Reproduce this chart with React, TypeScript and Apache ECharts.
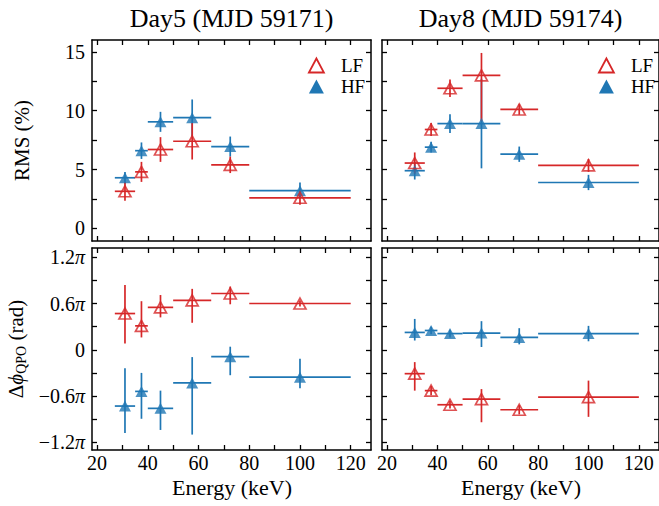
import React, { useEffect, useRef } from "react";
import * as echarts from "echarts";

// ---------- data ----------
const energy = [31, 37.5, 45, 57.5, 72.5, 100];
const binLo = [27, 35, 40, 50, 65, 80];
const binHi = [35, 40, 50, 65, 80, 120];

// RMS (%) Day5
const rms5LF = [3.15, 4.8, 6.7, 7.4, 5.4, 2.6];
const rms5LFerrLo = [0.8, 0.85, 1.05, 1.55, 0.7, 0.6];
const rms5LFerrHi = [0.8, 0.85, 1.05, 1.55, 0.7, 0.6];
const rms5HF = [4.3, 6.6, 9.05, 9.4, 6.95, 3.2];
const rms5HFerrLo = [0.5, 0.7, 0.85, 1.55, 0.85, 0.7];
const rms5HFerrHi = [0.5, 0.7, 0.85, 1.55, 0.85, 0.7];

// RMS (%) Day8
const rms8LF = [5.55, 8.4, 11.9, 13.0, 10.1, 5.35];
const rms8LFerrLo = [0.9, 0.55, 0.75, 3.9, 0.45, 0.55];
const rms8LFerrHi = [0.9, 0.55, 0.75, 1.9, 0.45, 0.55];
const rms8HF = [4.9, 6.9, 8.9, 8.9, 6.3, 3.9];
const rms8HFerrLo = [0.75, 0.45, 0.8, 3.8, 0.65, 0.65];
const rms8HFerrHi = [0.75, 0.45, 0.8, 3.8, 0.65, 0.65];

// phase lag (units of pi) Day5
const ph5LF = [0.47, 0.31, 0.55, 0.64, 0.73, 0.6];
const ph5LFerrLo = [0.39, 0.15, 0.13, 0.29, 0.14, 0.04];
const ph5LFerrHi = [0.37, 0.32, 0.16, 0.15, 0.09, 0.04];
const ph5HF = [-0.73, -0.54, -0.76, -0.43, -0.09, -0.355];
const ph5HFerrLo = [0.35, 0.355, 0.28, 0.67, 0.24, 0.145];
const ph5HFerrHi = [0.49, 0.24, 0.23, 0.335, 0.13, 0.24];

// phase lag (units of pi) Day8
const ph8LF = [-0.31, -0.53, -0.713, -0.64, -0.778, -0.614];
const ph8LFerrLo = [0.22, 0.06, 0.05, 0.3, 0.06, 0.256];
const ph8LFerrHi = [0.15, 0.06, 0.05, 0.13, 0.06, 0.214];
const ph8HF = [0.225, 0.25, 0.21, 0.216, 0.16, 0.21];
const ph8HFerrLo = [0.105, 0.05, 0.05, 0.18, 0.09, 0.1];
const ph8HFerrHi = [0.175, 0.05, 0.05, 0.155, 0.12, 0.1];

const xTickValues = [20, 30, 40, 50, 60, 70, 80, 90, 100, 110, 120];
const xLabelValues = [20, 40, 60, 80, 100, 120];
const rmsTickValues = [0, 2.5, 5, 7.5, 10, 12.5, 15];
const rmsLabelValues = [0, 5, 10, 15];
const phTickValues = [-1.2, -0.9, -0.6, -0.3, 0, 0.3, 0.6, 0.9, 1.2];
const phLabelValues = [-1.2, -0.6, 0, 0.6, 1.2];

const titles = ["Day5 (MJD 59171)", "Day8 (MJD 59174)"];
const xAxisTitle = "Energy (keV)";

// ---------- style ----------
const RED = "#d62728";
const BLUE = "#1f77b4";
const FONT = '"Liberation Serif", "Times New Roman", serif';

const grids = [
  { left: 92, top: 40, width: 279, height: 201 },
  { left: 382, top: 40, width: 277, height: 201 },
  { left: 92, top: 248, width: 279, height: 202 },
  { left: 382, top: 248, width: 277, height: 202 },
];

function errSeries(name: string, gi: number, vals: number[], lo: number[], hi: number[], color: string) {
  return {
    type: "custom",
    name,
    xAxisIndex: gi,
    yAxisIndex: gi,
    silent: true,
    encode: { x: [0, 2, 3], y: [1, 4, 5] },
    data: energy.map((e, i) => [e, vals[i], binLo[i], binHi[i], vals[i] - lo[i], vals[i] + hi[i]]),
    renderItem: (_p: any, api: any) => {
      const x = api.value(0);
      const y = api.value(1);
      const a = api.coord([api.value(2), y]);
      const b = api.coord([api.value(3), y]);
      const c = api.coord([x, api.value(4)]);
      const d = api.coord([x, api.value(5)]);
      const st = { stroke: color, lineWidth: 1.7 };
      return {
        type: "group",
        children: [
          { type: "line", shape: { x1: a[0], y1: a[1], x2: b[0], y2: b[1] }, style: st },
          { type: "line", shape: { x1: c[0], y1: c[1], x2: d[0], y2: d[1] }, style: st },
        ],
      };
    },
  };
}

function markSeries(name: string, gi: number, vals: number[], color: string, open: boolean) {
  return {
    type: "scatter",
    name,
    xAxisIndex: gi,
    yAxisIndex: gi,
    symbol: "triangle",
    symbolSize: [12, 11],
    silent: true,
    data: energy.map((e, i) => [e, vals[i]]),
    itemStyle: open
      ? { color: "rgba(255,255,255,0)", borderColor: color, borderWidth: 1.7 }
      : { color, borderWidth: 0 },
  };
}

function phaseLabel(v: number) {
  if (Math.abs(v) < 1e-9) return "{n|0}";
  const s = (v < 0 ? "\u2212" : "") + Math.abs(v).toFixed(1);
  return "{n|" + s + "}{p|\u03c0}";
}

export default function App() {
  const ref = useRef<HTMLDivElement>(null);
  useEffect(() => {
    if (!ref.current) return;
    const chart = echarts.init(ref.current, null, { renderer: "svg" });

    const axisLine = { show: true, onZero: false, lineStyle: { color: "#000", width: 1.5 } };
    const tickStyle = { color: "#000", width: 1.3 };
    const labelBase = { fontFamily: FONT, fontSize: 20, color: "#000" };

    const xAxes: any[] = [];
    const yAxes: any[] = [];
    for (let gi = 0; gi < 4; gi++) {
      const bottomRow = gi >= 2;
      xAxes.push({
        type: "value",
        gridIndex: gi,
        position: "bottom",
        min: 18,
        max: 128,
        axisLine,
        splitLine: { show: false },
        axisTick: { show: true, inside: true, length: 5, lineStyle: tickStyle, customValues: xTickValues },
        axisLabel: { show: bottomRow, ...labelBase, margin: 3, customValues: xLabelValues },
      });
    }
    for (let gi = 0; gi < 4; gi++) {
      xAxes.push({
        type: "value",
        gridIndex: gi,
        position: "top",
        min: 18,
        max: 128,
        axisLine,
        splitLine: { show: false },
        axisTick: { show: true, inside: true, length: 5, lineStyle: tickStyle, customValues: xTickValues },
        axisLabel: { show: false },
      });
    }
    for (let gi = 0; gi < 4; gi++) {
      const top = gi < 2;
      const leftCol = gi % 2 === 0;
      yAxes.push({
        type: "value",
        gridIndex: gi,
        position: "left",
        min: top ? -1.07 : -1.3,
        max: top ? 16 : 1.32,
        axisLine,
        splitLine: { show: false },
        axisTick: { show: true, inside: true, length: 5, lineStyle: tickStyle, customValues: top ? rmsTickValues : phTickValues },
        axisLabel: top
          ? { show: leftCol, ...labelBase, margin: 7, customValues: rmsLabelValues }
          : {
              show: leftCol,
              margin: 7,
              customValues: phLabelValues,
              formatter: (v: number) => phaseLabel(v),
              rich: {
                n: { fontFamily: FONT, fontSize: 20, color: "#000" },
                p: { fontFamily: FONT, fontSize: 20, fontStyle: "italic", color: "#000" },
              },
            },
        name: leftCol ? (top ? "RMS (%)" : "{a|\u0394}{b|\u03d5}{c|QPO}{a| (rad)}") : "",
        nameLocation: "middle",
        nameGap: top ? 60 : 64,
        nameRotate: 90,
        nameMoveOverlap: false,
        nameTextStyle: top
          ? { fontFamily: FONT, fontSize: 21, fontWeight: "normal", color: "#000" }
          : {
              fontFamily: FONT,
              fontSize: 21,
              fontWeight: "normal",
              color: "#000",
              rich: {
                a: { fontFamily: FONT, fontSize: 21, fontWeight: "normal", color: "#000" },
                b: { fontFamily: FONT, fontSize: 21, fontWeight: "normal", fontStyle: "italic", color: "#000" },
                c: { fontFamily: FONT, fontSize: 14, fontWeight: "normal", color: "#000", padding: [11, 0, 0, 0] },
              },
            },
      });
    }
    for (let gi = 0; gi < 4; gi++) {
      const top = gi < 2;
      yAxes.push({
        type: "value",
        gridIndex: gi,
        position: "right",
        min: top ? -1.07 : -1.3,
        max: top ? 16 : 1.32,
        axisLine,
        splitLine: { show: false },
        axisTick: { show: true, inside: true, length: 5, lineStyle: tickStyle, customValues: top ? rmsTickValues : phTickValues },
        axisLabel: { show: false },
      });
    }

    const series: any[] = [
      errSeries("HF", 0, rms5HF, rms5HFerrLo, rms5HFerrHi, BLUE),
      markSeries("HF", 0, rms5HF, BLUE, false),
      errSeries("LF", 0, rms5LF, rms5LFerrLo, rms5LFerrHi, RED),
      markSeries("LF", 0, rms5LF, RED, true),
      errSeries("HF", 1, rms8HF, rms8HFerrLo, rms8HFerrHi, BLUE),
      markSeries("HF", 1, rms8HF, BLUE, false),
      errSeries("LF", 1, rms8LF, rms8LFerrLo, rms8LFerrHi, RED),
      markSeries("LF", 1, rms8LF, RED, true),
      errSeries("HF", 2, ph5HF, ph5HFerrLo, ph5HFerrHi, BLUE),
      markSeries("HF", 2, ph5HF, BLUE, false),
      errSeries("LF", 2, ph5LF, ph5LFerrLo, ph5LFerrHi, RED),
      markSeries("LF", 2, ph5LF, RED, true),
      errSeries("HF", 3, ph8HF, ph8HFerrLo, ph8HFerrHi, BLUE),
      markSeries("HF", 3, ph8HF, BLUE, false),
      errSeries("LF", 3, ph8LF, ph8LFerrLo, ph8LFerrHi, RED),
      markSeries("LF", 3, ph8LF, RED, true),
    ];

    const legendData = [
      { name: "LF", icon: "triangle", itemStyle: { color: "rgba(255,255,255,0)", borderColor: RED, borderWidth: 1.8 } },
      { name: "HF", icon: "triangle", itemStyle: { color: BLUE, borderWidth: 0 } },
    ];
    const legendBase = {
      orient: "vertical",
      top: 51,
      itemWidth: 15,
      itemHeight: 14,
      itemGap: 2,
      selectedMode: false,
      data: legendData,
      textStyle: { fontFamily: FONT, fontSize: 19, color: "#000", padding: [0, 0, 0, 12] },
    };

    const titleTexts = titles.map((t, i) => ({
      type: "text",
      x: grids[i].left + grids[i].width / 2,
      y: 5,
      style: { text: t, fontFamily: FONT, fontSize: 26, fill: "#000", align: "center", verticalAlign: "top" },
    }));
    const xNameTexts = [2, 3].map((gi) => ({
      type: "text",
      x: Math.round(grids[gi].left + grids[gi].width / 2),
      y: 487,
      style: { text: xAxisTitle, fontFamily: FONT, fontSize: 22, fontWeight: "normal", fill: "#000", align: "center", verticalAlign: "middle" },
    }));

    chart.setOption({
      animation: false,
      backgroundColor: "#fff",
      grid: grids.map((g) => ({ ...g, outerBoundsMode: "none", containLabel: false })),
      xAxis: xAxes,
      yAxis: yAxes,
      legend: [
        { ...legendBase, left: 303 },
        { ...legendBase, left: 593 },
      ],
      graphic: [...titleTexts, ...xNameTexts],
      series,
    });
    return () => chart.dispose();
  }, []);
  return <div ref={ref} style={{ position: "fixed", left: 0, top: 0, width: 659, height: 506 }} />;
}
